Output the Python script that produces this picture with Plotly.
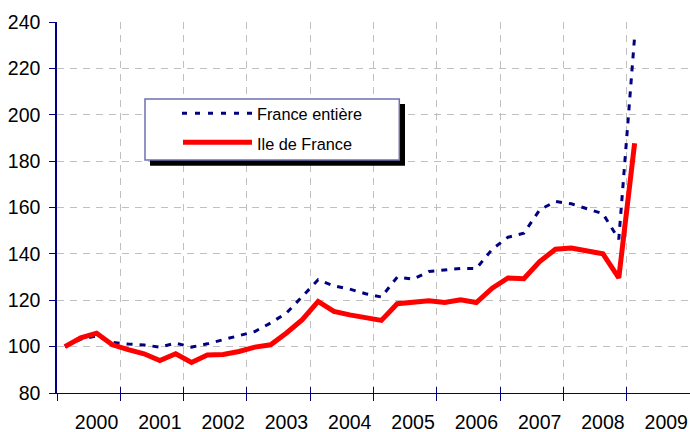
import plotly.graph_objects as go

# ---- data (quarterly index, base 100) ----
years = ["2000", "2001", "2002", "2003", "2004", "2005", "2006", "2007", "2008", "2009"]
france_entiere = [100, 103.2, 104.6, 101.8, 101.1, 100.7, 99.8, 101.5, 99.8, 101.2,
                  103.0, 104.7, 106.5, 110.2, 114.5, 121.6, 128.8, 126.2, 124.8, 122.8,
                  121.4, 130.0, 129.1, 132.4, 133.1, 133.7, 133.7, 142.0, 147.2, 148.9,
                  159.0, 162.6, 161.6, 159.3, 157.3, 146.3, 233.7]
ile_de_france = [100, 103.8, 105.8, 100.8, 98.7, 96.9, 94.0, 96.9, 93.2, 96.4,
                 96.6, 97.9, 99.8, 100.8, 105.9, 111.6, 119.5, 115.2, 113.7, 112.7,
                 111.3, 118.5, 119.0, 119.8, 119.0, 120.2, 119.0, 125.2, 129.6, 129.3,
                 136.7, 142.0, 142.5, 141.0, 140.0, 129.6, 187.7]
series_names = ["France entière", "Ile de France"]
y_ticks = [80, 100, 120, 140, 160, 180, 200, 220, 240]

quarters_per_year = 4
n_cat = quarters_per_year * len(years)
xq = list(range(len(france_entiere)))
boundaries = [k * quarters_per_year - 0.5 for k in range(len(years))]
label_pos = [k * quarters_per_year + 2 for k in range(len(years))]

W, H = 690, 432
L, R, T, B = 57, 0, 22, 39
FONT = "Liberation Sans, Arial, sans-serif"
NAVY = "#000080"
GRID = "#c0c0c0"


def px(xp):
    return (xp - L) / (W - L - R)


def py(yp):
    return (H - B - yp) / (H - T - B)


fig = go.Figure()
fig.add_trace(go.Scatter(x=xq, y=france_entiere, mode="lines", name=series_names[0],
                         line=dict(color=NAVY, width=3, dash="6px,7px"), showlegend=False))
fig.add_trace(go.Scatter(x=xq, y=ile_de_france, mode="lines", name=series_names[1],
                         line=dict(color="#ff0000", width=5), showlegend=False))

xr = [-0.5, n_cat - 0.5]

fig.update_layout(
    width=W, height=H,
    margin=dict(l=L, r=R, t=T, b=B, pad=0, autoexpand=False),
    paper_bgcolor="white", plot_bgcolor="white",
    font=dict(family=FONT, size=19.5, color="black"),
    xaxis=dict(range=xr, tickmode="array", tickvals=boundaries, ticktext=[""] * len(boundaries),
               ticks="outside", ticklen=7, tickcolor=NAVY, tickwidth=1,
               showgrid=True, gridcolor=GRID, griddash="7px,6px", gridwidth=1,
               showline=True, linecolor=NAVY, linewidth=1, zeroline=False,
               showticklabels=False, fixedrange=True, automargin=False),
    xaxis2=dict(range=xr, overlaying="x", side="bottom", anchor="y",
                tickmode="array", tickvals=label_pos, ticktext=years,
                ticks="", showgrid=False, showline=False, zeroline=False, automargin=False,
                ticklabelstandoff=15, tickfont=dict(size=19.5, family=FONT)),
    xaxis3=dict(range=xr, overlaying="x", side="bottom", anchor="y",
                tickmode="array", tickvals=boundaries, ticktext=[""] * len(boundaries),
                ticks="inside", ticklen=6, tickcolor=NAVY, tickwidth=1, automargin=False,
                showgrid=False, showline=False, zeroline=False, showticklabels=False),
    yaxis=dict(range=[80, 240], tickmode="array", tickvals=y_ticks,
               ticks="outside", ticklen=6, tickcolor=NAVY, tickwidth=1,
               showgrid=True, gridcolor=GRID, griddash="7px,6px", gridwidth=1,
               showline=True, linecolor=NAVY, linewidth=1.5, zeroline=False, automargin=False,
               ticklabelstandoff=5, tickfont=dict(size=19.5, family=FONT), fixedrange=True),
)

# dummy traces to activate overlay axes
fig.add_trace(go.Scatter(x=[None], y=[None], xaxis="x2", showlegend=False, hoverinfo="skip"))
fig.add_trace(go.Scatter(x=[None], y=[None], xaxis="x3", showlegend=False, hoverinfo="skip"))

# ---- legend box (Excel style with shadow) ----
shapes = [
    dict(type="rect", xref="paper", yref="paper", x0=px(150), x1=px(405), y0=py(165.7), y1=py(104),
         fillcolor="black", line=dict(width=0), layer="above"),
    dict(type="rect", xref="paper", yref="paper", x0=px(145), x1=px(399.3), y0=py(160), y1=py(99),
         fillcolor="white", line=dict(color="#7070b0", width=1.5), layer="above"),
    dict(type="line", xref="paper", yref="paper", x0=px(182), x1=px(253), y0=py(113.3), y1=py(113.3),
         line=dict(color=NAVY, width=3, dash="5px,8px"), layer="above"),
    dict(type="line", xref="paper", yref="paper", x0=px(183), x1=px(252), y0=py(142.3), y1=py(142.3),
         line=dict(color="#ff0000", width=5), layer="above"),
]
fig.update_layout(shapes=shapes)
fig.add_annotation(x=px(255), y=py(114.5), xref="paper", yref="paper", text=series_names[0],
                   showarrow=False, xanchor="left", yanchor="middle",
                   font=dict(family=FONT, size=16.3, color="black"))
fig.add_annotation(x=px(255), y=py(143.5), xref="paper", yref="paper", text=series_names[1],
                   showarrow=False, xanchor="left", yanchor="middle",
                   font=dict(family=FONT, size=16.3, color="black"))

fig.write_html("out.html")
